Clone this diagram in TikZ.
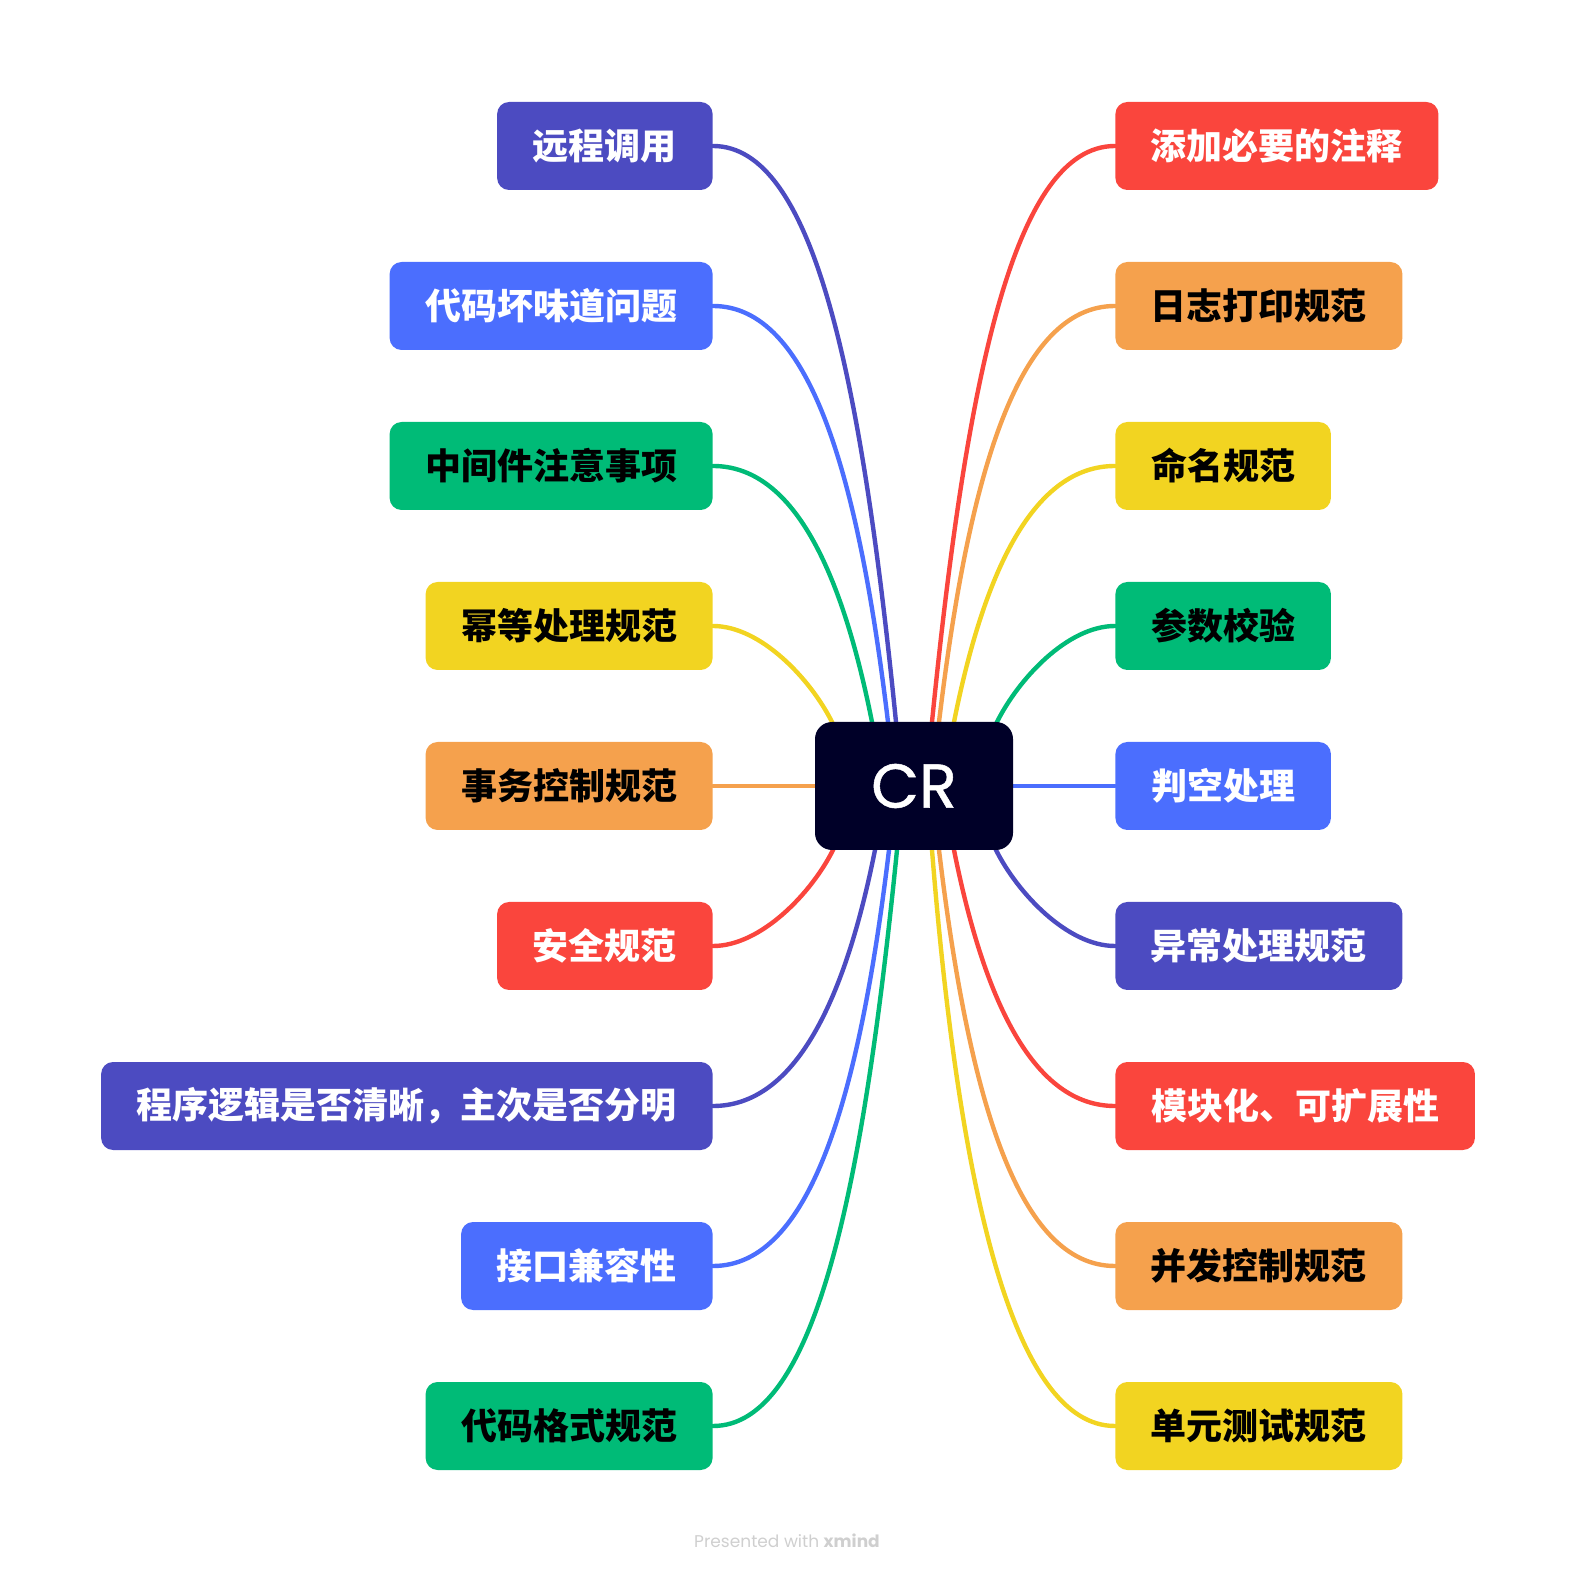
\documentclass[tikz,border=0pt]{standalone}
\usepackage{fontspec}
\newfontfamily\cjk{Noto Sans CJK SC}
\newfontfamily\popp{Poppins}
\newfontfamily\poppb{Poppins}[FakeBold=0.8]
\usetikzlibrary{backgrounds,calc}
\definecolor{cIn}{HTML}{4C4BC1}
\definecolor{cBl}{HTML}{4B6EFE}
\definecolor{cGr}{HTML}{00BB77}
\definecolor{cYe}{HTML}{F2D421}
\definecolor{cOr}{HTML}{F5A14D}
\definecolor{cRe}{HTML}{FA453D}
\definecolor{cC}{HTML}{000028}
\definecolor{cW}{HTML}{CFCFCF}
\begin{document}
\begin{tikzpicture}[x=0.5pt,y=-0.5pt,
  box/.style={rounded corners=6pt, minimum height=44pt, inner sep=0pt, font=\cjk\bfseries\fontsize{18pt}{18pt}\selectfont},
  lbox/.style={box, anchor=east},
  rbox/.style={box, anchor=west},
  wt/.style={text=white},
  bt/.style={text=black},
  ln/.style={line width=2.2pt, line cap=round, line join=round}]
\path[use as bounding box] (0,0) rectangle (1576,1572);

% centre
\node[fill=cC, rounded corners=8.5pt, minimum width=99pt, minimum height=64pt, inner sep=0pt, text=white, font=\poppb\fontsize{31pt}{31pt}\selectfont] (c) at (914,786) {CR};

% left children
\node[lbox, fill=cIn, wt, minimum width=107.75pt] (n1) at (713,146) {远程调用};
\node[lbox, fill=cBl, wt, minimum width=161.5pt] (n2) at (713,306) {代码坏味道问题};
\node[lbox, fill=cGr, bt, minimum width=161.5pt] (n3) at (713,466) {中间件注意事项};
\node[lbox, fill=cYe, bt, minimum width=143.5pt] (n4) at (713,626) {幂等处理规范};
\node[lbox, fill=cOr, bt, minimum width=143.5pt] (n5) at (713,786) {事务控制规范};
\node[lbox, fill=cRe, wt, minimum width=107.75pt] (n6) at (713,946) {安全规范};
\node[lbox, fill=cIn, wt, minimum width=305.75pt] (n7) at (713,1106) {程序逻辑是否清晰，主次是否分明};
\node[lbox, fill=cBl, wt, minimum width=125.75pt] (n8) at (713,1266) {接口兼容性};
\node[lbox, fill=cGr, bt, minimum width=143.5pt] (n9) at (713,1426) {代码格式规范};

% right children
\node[rbox, fill=cRe, wt, minimum width=161.5pt] (r1) at (1115,146) {添加必要的注释};
\node[rbox, fill=cOr, bt, minimum width=143.5pt] (r2) at (1115,306) {日志打印规范};
\node[rbox, fill=cYe, bt, minimum width=107.75pt] (r3) at (1115,466) {命名规范};
\node[rbox, fill=cGr, bt, minimum width=107.75pt] (r4) at (1115,626) {参数校验};
\node[rbox, fill=cBl, wt, minimum width=107.75pt] (r5) at (1115,786) {判空处理};
\node[rbox, fill=cIn, wt, minimum width=143.5pt] (r6) at (1115,946) {异常处理规范};
\node[rbox, fill=cRe, wt, minimum width=179.75pt] (r7) at (1115,1106) {模块化、可扩展性};
\node[rbox, fill=cOr, bt, minimum width=143.5pt] (r8) at (1115,1266) {并发控制规范};
\node[rbox, fill=cYe, bt, minimum width=143.5pt] (r9) at (1115,1426) {单元测试规范};

% watermark
\node[text=cW, font=\popp\fontsize{8.5pt}{8.5pt}\selectfont, anchor=base, inner sep=0pt] (wm) at (787,1547) {Presented with \textbf{xmind}};

% start points on the centre box
\coordinate (a1) at (896,722);
\coordinate (a2) at (888,722);
\coordinate (a3) at (872,722);
\coordinate (a4) at (832,722);
\coordinate (a6) at (833,850);
\coordinate (a7) at (875,850);
\coordinate (a8) at (889,850);
\coordinate (a9) at (897,850);
\coordinate (b1) at (932,722);
\coordinate (b2) at (939,722);
\coordinate (b3) at (954,722);
\coordinate (b4) at (997,722);
\coordinate (b6) at (996,850);
\coordinate (b7) at (954,850);
\coordinate (b8) at (939,850);
\coordinate (b9) at (932,850);

\begin{pgfonlayer}{background}
\draw[ln, cIn] ($(a1)+(2,20)$) -- (a1) .. controls (861.4,376.4) and (813.7,146) .. (n1.east);
\draw[ln, cBl] ($(a2)+(2.4,20)$) -- (a2) .. controls (858,472.4) and (809.3,306) .. (n2.east);
\draw[ln, cGr] ($(a3)+(4,20)$) -- (a3) .. controls (841.3,568.4) and (792.5,466) .. (n3.east);
\draw[ln, cYe] ($(a4)+(10,20)$) -- (a4) .. controls (810.5,679) and (760.6,626) .. (n4.east);
\draw[ln, cOr] (c.west) -- (n5.east);
\draw[ln, cRe] ($(a6)+(10,-20)$) -- (a6) .. controls (811.5,893) and (761,946) .. (n6.east);
\draw[ln, cIn] ($(a7)+(4,-20)$) -- (a7) .. controls (844.3,1003.6) and (794,1106) .. (n7.east);
\draw[ln, cBl] ($(a8)+(2.4,-20)$) -- (a8) .. controls (859,1099.6) and (809.8,1266) .. (n8.east);
\draw[ln, cGr] ($(a9)+(2,-20)$) -- (a9) .. controls (862.4,1195.6) and (814.2,1426) .. (n9.east);

\draw[ln, cRe] ($(b1)+(-2,20)$) -- (b1) .. controls (966.6,376.4) and (1014.4,146) .. (r1.west);
\draw[ln, cOr] ($(b2)+(-2.4,20)$) -- (b2) .. controls (969,472.4) and (1018.2,306) .. (r2.west);
\draw[ln, cYe] ($(b3)+(-4,20)$) -- (b3) .. controls (984.7,568.4) and (1034.5,466) .. (r3.west);
\draw[ln, cGr] ($(b4)+(-10,20)$) -- (b4) .. controls (1018.5,679) and (1067.4,626) .. (r4.west);
\draw[ln, cBl] (c.east) -- (r5.west);
\draw[ln, cIn] ($(b6)+(-10,-20)$) -- (b6) .. controls (1017.5,893) and (1067.4,946) .. (r6.west);
\draw[ln, cRe] ($(b7)+(-4,-20)$) -- (b7) .. controls (984.7,1003.6) and (1034.5,1106) .. (r7.west);
\draw[ln, cOr] ($(b8)+(-2.4,-20)$) -- (b8) .. controls (969,1099.6) and (1018.2,1266) .. (r8.west);
\draw[ln, cYe] ($(b9)+(-2,-20)$) -- (b9) .. controls (959.6,1195.6) and (1014.4,1426) .. (r9.west);
\end{pgfonlayer}
\end{tikzpicture}
\end{document}
